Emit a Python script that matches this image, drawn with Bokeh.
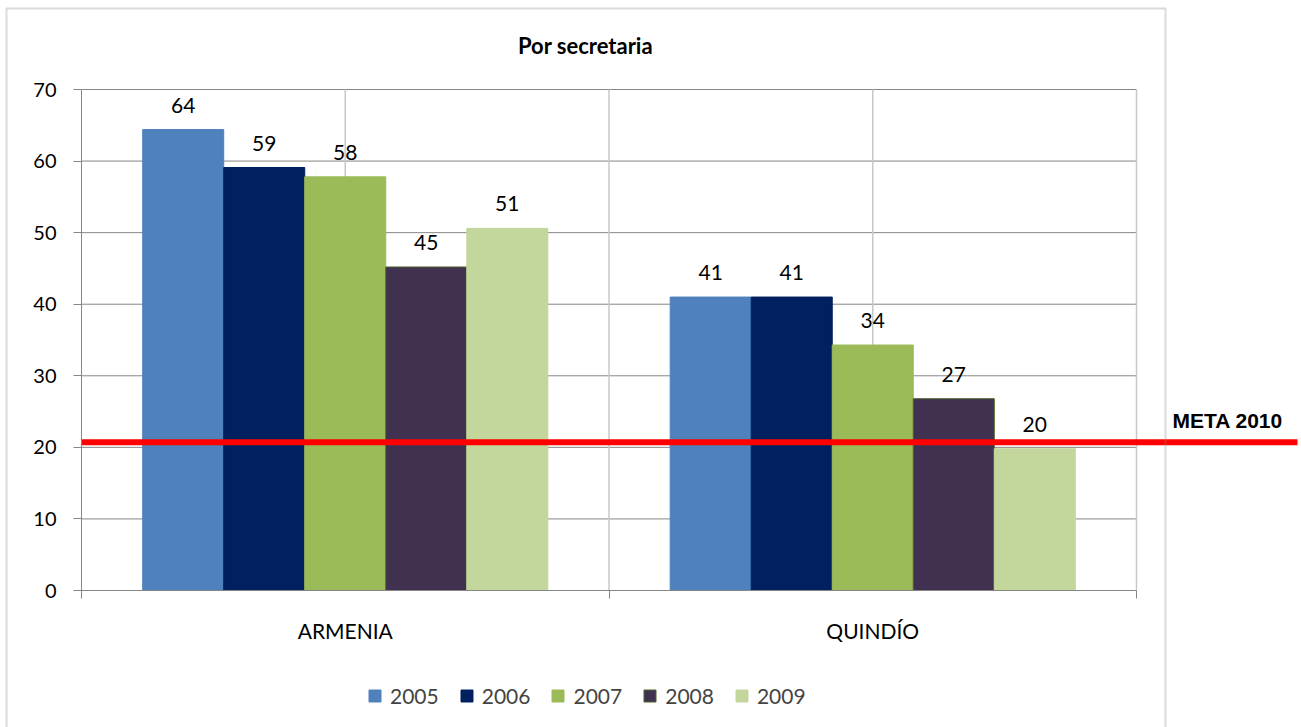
from bokeh.plotting import figure
from bokeh.models import (Range1d, LinearAxis, FixedTicker, Legend, LegendItem,
                          BoxAnnotation, ColumnDataSource)
from bokeh.core.properties import value
from bokeh.embed import file_html
from bokeh.resources import INLINE

# ---------------- data ----------------
title_text = "Por secretaria"
categories = ["ARMENIA", "QUINDÍO"]
years = ["2005", "2006", "2007", "2008", "2009"]
armenia = [64.4, 59.1, 57.8, 45.2, 50.6]
quindio = [41.0, 41.0, 34.3, 26.8, 19.8]
meta_2010 = 20.7
meta_label = "META 2010"
y_ticks = [0, 10, 20, 30, 40, 50, 60, 70]

# ---------------- styles ----------------
colors = ["#4F81BD", "#002060", "#9BBB59", "#403151", "#C3D69B"]
outlines = ["#4F81BD", "#002060", "#9BBB59", "#4F6228", "#C3D69B"]
FONT = "Lato"
FS = "21px"

# ---------------- layout (page pixels) ----------------
ORIGIN = 0
W, H = 1301, 727
PL, PR, PT, PB = 81, 1136, 89, 590     # plot area in page pixels
NCAT = len(categories)
YMAX = y_ticks[-1]


def px_x(px):
    return (px - PL) / (PR - PL) * NCAT


def px_y(py):
    return (PB - py) / (PB - PT) * YMAX


p = figure(width=W, height=H,
           x_range=Range1d(px_x(ORIGIN), px_x(ORIGIN + W)),
           y_range=Range1d(px_y(ORIGIN + H), px_y(ORIGIN)),
           x_axis_type=None, y_axis_type=None,
           toolbar_location=None, output_backend="svg", min_border=0)
p.outline_line_color = None
p.background_fill_color = "white"
p.border_fill_color = "white"

# outer chart frame
p.add_layout(BoxAnnotation(left=px_x(6), right=px_x(1165),
                           top=px_y(8), bottom=px_y(H + 20),
                           fill_alpha=0, line_color="#868686", line_width=2))

# gridlines
p.segment(x0=0, x1=NCAT, y0=y_ticks[1:], y1=y_ticks[1:],
          line_color="#868686", line_width=1)
vx = [i * 0.5 for i in range(1, 2 * NCAT + 1)]
p.segment(x0=vx, x1=vx, y0=0, y1=YMAX, line_color="#C8C8C8", line_width=1.5)

# bars
nb = len(years)
bw = 0.1536
renderers = []
for i, yr in enumerate(years):
    off = (i - (nb - 1) / 2) * bw
    tops = [armenia[i], quindio[i]]
    xs = [c + 0.5 + off for c in range(NCAT)]
    src = ColumnDataSource(dict(x=xs, top=tops,
                                lab=[str(int(round(t))) for t in tops]))
    r = p.vbar(x="x", top="top", width=bw, bottom=0, source=src,
               fill_color=colors[i], line_color=outlines[i], line_width=1)
    renderers.append(r)
    p.text(x="x", y="top", text="lab", source=src, text_align="center",
           text_baseline="bottom", y_offset=-17, text_font=value(FONT),
           text_font_size=FS, text_color="black")

# axes
yaxis = LinearAxis(fixed_location=0, bounds=(0, YMAX),
                   ticker=FixedTicker(ticks=y_ticks, minor_ticks=[]))
yaxis.axis_line_color = "#868686"
yaxis.major_tick_line_color = "#868686"
yaxis.major_tick_out = 8
yaxis.major_tick_in = 0
yaxis.major_label_standoff = 17
yaxis.major_label_text_font = FONT
yaxis.major_label_text_font_size = "20px"
yaxis.major_label_text_color = "black"
p.add_layout(yaxis, "left")

centers = [c + 0.5 for c in range(NCAT)]
xaxis = LinearAxis(fixed_location=0, bounds=(0, NCAT),
                   ticker=FixedTicker(ticks=centers,
                                      minor_ticks=list(range(NCAT + 1))))
xaxis.major_label_overrides = {c: n for c, n in zip(centers, categories)}
xaxis.axis_line_color = "#868686"
xaxis.major_tick_line_color = None
xaxis.major_tick_out = 0
xaxis.minor_tick_line_color = "#868686"
xaxis.minor_tick_out = 8
xaxis.minor_tick_in = 0
xaxis.major_label_standoff = 19
xaxis.major_label_text_font = FONT
xaxis.major_label_text_font_size = FS
xaxis.major_label_text_color = "black"
p.add_layout(xaxis, "below")

# META line
p.segment(x0=0, x1=px_x(1297), y0=meta_2010, y1=meta_2010,
          line_color="#FF0000", line_width=6)
p.text(x=[px_x(1172)], y=[meta_2010], text=[meta_label], text_align="left",
       text_baseline="bottom", y_offset=-10,
       text_font=value("Liberation Sans"), text_font_style="bold",
       text_font_size="21px", text_color="black")

# title
p.text(x=[px_x(585)], y=[px_y(45)], text=[title_text], text_align="center",
       text_baseline="middle", text_font=value(FONT), text_font_style="bold",
       text_font_size="22px", text_color="black")

# legend
legend = Legend(items=[LegendItem(label=yr, renderers=[r])
                       for yr, r in zip(years, renderers)],
                orientation="horizontal", location=(367, 19),
                border_line_color=None, background_fill_alpha=0,
                label_text_font=FONT, label_text_font_size=FS,
                glyph_width=15, glyph_height=15, label_height=20,
                spacing=20, label_standoff=8, padding=0, margin=0)
p.add_layout(legend)

open("out.html", "w").write(file_html(p, INLINE))
